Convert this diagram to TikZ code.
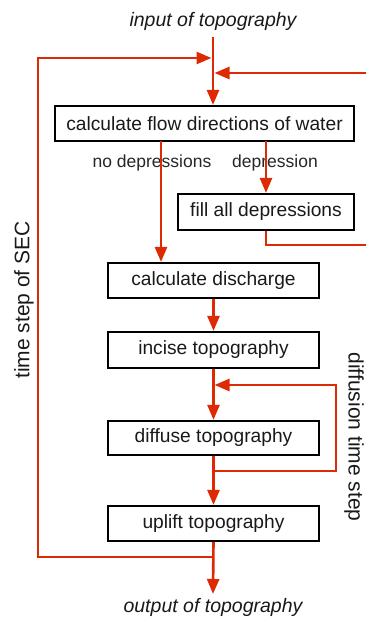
\documentclass[tikz,border=0pt]{standalone}
\usepackage{fontspec}
\setmainfont{Liberation Sans}
\usetikzlibrary{arrows.meta,calc}
\definecolor{flowred}{RGB}{222,41,5}
\begin{document}
\begin{tikzpicture}[x=1pt,y=-1pt,
  box/.style={draw=black,line width=2.2pt,inner sep=0pt,font=\fontsize{19.2}{21}\selectfont,text=black!90},
  flow/.style={draw=flowred,line width=2.6pt},
  arr/.style={flow,-{Triangle[length=15pt,width=12pt]}},
  lbl/.style={font=\fontsize{17.5}{19}\selectfont,text=black!85},
  io/.style={font=\fontsize{19.5}{21}\selectfont\itshape,text=black!90},
  side/.style={font=\fontsize{21}{23}\selectfont,text=black!90}]
\useasboundingbox (0,0) rectangle (366,621);
% nodes
\node[io] (in) at (213,21) {input of topography};
\node[box,minimum width=299pt,minimum height=35pt] (flowdir) at (204.5,123.5) {calculate flow directions of water};
\node[box,minimum width=176pt,minimum height=36pt] (fill) at (266,212) {fill all depressions};
\node[box,minimum width=211pt,minimum height=35pt] (disch) at (213.5,280.5) {calculate discharge};
\node[box,minimum width=211pt,minimum height=36pt] (incise) at (213.5,350) {incise topography};
\node[box,minimum width=211pt,minimum height=34pt] (diffuse) at (213.5,438) {diffuse topography};
\node[box,minimum width=211pt,minimum height=35pt] (uplift) at (213.5,523.5) {uplift topography};
\node[io] (out) at (213,607) {output of topography};
\node[lbl] (nodep) at (152,163) {no depressions};
\node[lbl] (dep) at (275,163) {depression};
\node[side,rotate=90] (sec) at (24,300) {time step of SEC};
\node[side,rotate=-90] (dts) at (354,437) {diffusion time step};
% coordinates
\coordinate (top) at (213,37);
\coordinate (j1) at (213,58);
\coordinate (j2) at (213,73);
\coordinate (rin) at (366,73);
\coordinate (rout) at (366,245);
\coordinate (fdL) at (161,141);
\coordinate (fdR) at (266,141);
\coordinate (j3) at (213,385);
\coordinate (j4) at (213,471);
\coordinate (j5) at (213,557);
\coordinate (tip) at (213,594);
% connectors
\draw[arr] (top) -- (top |- flowdir.north);
\draw[arr] (j5) -- (38,557) -- (38,58) -- ($(j1)+(-1.5,0)$);
\draw[arr] (rin) -- ($(j2)+(1.5,0)$);
\draw[arr] (fdR) -- (fdR |- fill.north);
\draw[flow] (fill.south -| fdR) -- (266,245) -- (rout);
\draw[arr] (fdL) -- (fdL |- disch.north);
\draw[arr] (disch.south) -- (incise.north);
\draw[arr] (incise.south) -- (diffuse.north);
\draw[arr] (j4) -- (336,471) -- (336,385) -- ($(j3)+(1.5,0)$);
\draw[arr] (diffuse.south) -- (uplift.north);
\draw[arr] (uplift.south) -- (tip);
\end{tikzpicture}
\end{document}
